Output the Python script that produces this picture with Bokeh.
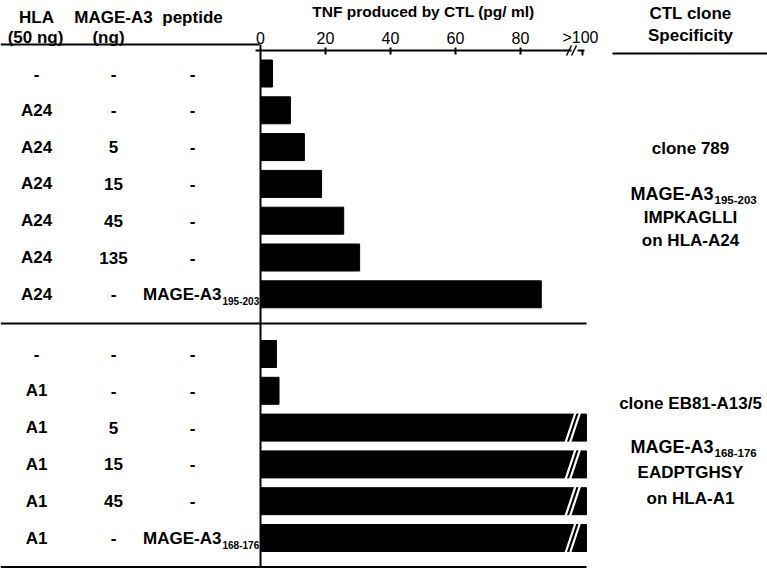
from bokeh.plotting import figure
from bokeh.models import Range1d
from bokeh.core.properties import value
from bokeh.embed import file_html
from bokeh.resources import INLINE

# ---------------- data ----------------
hla_top = ["-", "A24", "A24", "A24", "A24", "A24", "A24"]
mage_top = ["-", "-", "5", "15", "45", "135", "-"]
pep_top = ["-", "-", "-", "-", "-", "-", "MAGE-A3"]
pep_sub_top = ["", "", "", "", "", "", "195-203"]
tnf_top = [3.7, 9.2, 13.5, 18.8, 25.6, 30.5, 86.4]

hla_bot = ["-", "A1", "A1", "A1", "A1", "A1"]
mage_bot = ["-", "-", "5", "15", "45", "-"]
pep_bot = ["-", "-", "-", "-", "-", "MAGE-A3"]
pep_sub_bot = ["", "", "", "", "", "168-176"]
tnf_bot = [4.9, 5.7, None, None, None, None]   # None = off scale (>100)

tick_vals = [0, 20, 40, 60, 80, 100]
tick_labels = ["0", "20", "40", "60", "80", ">100"]

headers = ["HLA", "(50 ng)", "MAGE-A3", "(ng)", "peptide"]
spec_top = ["clone 789", "MAGE-A3", "IMPKAGLLI", "on HLA-A24"]
spec_top_sub = "195-203"
spec_bot = ["clone EB81-A13/5", "MAGE-A3", "EADPTGHSY", "on HLA-A1"]
spec_bot_sub = "168-176"

# ---------------- layout ----------------
FONT = "Liberation Sans"
X0, PXU = 260.0, 3.25          # pixel of value 0, pixels per pg/ml
CAP = 100.3                    # drawn length of off-scale bars
W, H = 767, 568


def vx(px):
    return (px - X0) / PXU


p = figure(width=W, height=H, x_range=Range1d(vx(0), vx(W)),
           y_range=Range1d(H, 0), output_backend="svg",
           toolbar_location=None, min_border=0, x_axis_type=None,
           y_axis_type=None, outline_line_color=None, title=None)
p.background_fill_color = "white"
p.border_fill_color = "white"


def txt(xs, ys, texts, size, bold=True, align="center"):
    p.text(x=xs, y=ys, text=texts, text_font=value(FONT),
           text_font_size=value(size),
           text_font_style="bold" if bold else "normal",
           text_align=align, text_baseline="middle", text_color="black")


STEP = 36.8
top_y = [73 + i * STEP for i in range(len(tnf_top))]
bot_y = [353.5 + i * STEP for i in range(len(tnf_bot))]

# bars
p.hbar(y=top_y, left=0, right=tnf_top, height=27, color="black")
bot_right = [CAP if v is None else v for v in tnf_bot]
p.hbar(y=bot_y, left=0, right=bot_right, height=27, color="black")

# break marks on off-scale bars
over_y = [y for y, v in zip(bot_y, tnf_bot) if v is None]
for dx in (0, 4.5):
    p.segment(x0=[vx(565 + dx)] * len(over_y), y0=[y + 15 for y in over_y],
              x1=[vx(575 + dx)] * len(over_y), y1=[y - 15 for y in over_y],
              line_color="white", line_width=2.2)

# axis
p.segment(x0=[vx(255), vx(577)], y0=[50, 50], x1=[vx(571), vx(584)],
          y1=[50, 50], line_color="black", line_width=2)
p.segment(x0=[vx(566), vx(571)], y0=[55, 55], x1=[vx(571), vx(576)],
          y1=[45, 45], line_color="black", line_width=1.5)
tv = tick_vals[1:-1]
p.segment(x0=tv, y0=[47] * len(tv), x1=tv, y1=[54] * len(tv),
          line_color="black", line_width=2)
p.segment(x0=[vx(582)], y0=[50], x1=[vx(582)], y1=[55],
          line_color="black", line_width=2)
p.text(x=tick_vals, y=[37] * len(tick_vals), text=tick_labels,
       x_offset=[0, 0, 0, 0, 0, -5],
       text_font=value(FONT), text_font_size=value("16px"),
       text_align="center", text_baseline="middle", text_color="black")
txt([vx(425)], [11], ["TNF produced by CTL  (pg/ ml)"], "15.5px")

# rules
p.segment(x0=[0], y0=[44], x1=[0], y1=[567], line_color="black",
          line_width=2)
p.segment(x0=[vx(0), vx(0), vx(0), vx(612)], y0=[44, 323, 566.5, 53],
          x1=[vx(259), vx(586), vx(586), vx(767)], y1=[44, 323, 566.5, 53],
          line_color="black", line_width=2)

# table header
txt([vx(36), vx(35), vx(113), vx(108), vx(192)], [17, 37, 17, 37, 17],
    headers, "17px")

# table body
rows_y = top_y + bot_y
txt([vx(36)] * len(rows_y), rows_y, hla_top + hla_bot, "17px")
txt([vx(113)] * len(rows_y), rows_y, mage_top + mage_bot, "17px")
peps = pep_top + pep_bot
subs = pep_sub_top + pep_sub_bot
dash_y = [y for y, s in zip(rows_y, peps) if s == "-"]
txt([vx(192)] * len(dash_y), dash_y, ["-"] * len(dash_y), "17px")
pep_y = [y for y, s in zip(rows_y, peps) if s != "-"]
pep_t = [s for s in peps if s != "-"]
sub_t = [s for s, q in zip(subs, peps) if q != "-"]
txt([vx(221)] * len(pep_y), pep_y, pep_t, "17px", align="right")
txt([vx(222)] * len(pep_y), [y + 7 for y in pep_y], sub_t, "10px",
    align="left")

# specificity column
XC = 690
txt([vx(XC), vx(XC)], [13, 35], ["CTL clone", "Specificity"], "17px")
for lines, sub, ys in ((spec_top, spec_top_sub, [147.5, 193, 217, 240]),
                       (spec_bot, spec_bot_sub, [403, 446, 471.5, 498])):
    txt([vx(XC), vx(XC), vx(XC)], [ys[0], ys[2], ys[3]],
        [lines[0], lines[2], lines[3]], "17px")
    txt([vx(713)], [ys[1]], [lines[1]], "18px", align="right")
    txt([vx(714)], [ys[1] + 6], [sub], "11.5px", align="left")

open("out.html", "w").write(file_html(p, INLINE))
